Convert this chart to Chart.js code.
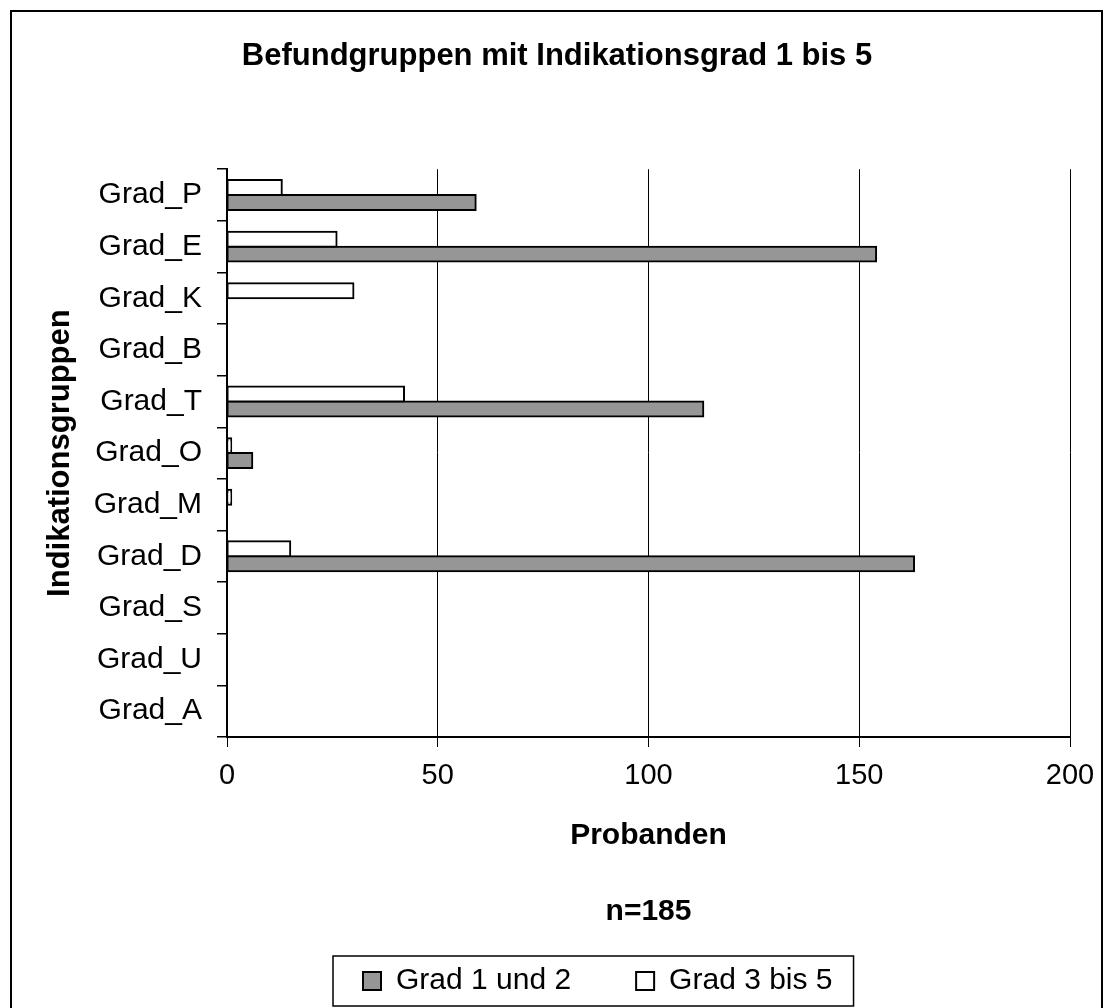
<!DOCTYPE html>
<html>
<head>
<meta charset="utf-8">
<script src="https://cdn.jsdelivr.net/npm/chart.js@4.4.1/dist/chart.umd.min.js"></script>
<style>
  html, body { margin: 0; padding: 0; background: #ffffff; }
  canvas { display: block; }
</style>
</head>
<body>
<canvas id="c" width="1108" height="1008"></canvas>
<script>
// ---- data ----
const categories = ['Grad_P', 'Grad_E', 'Grad_K', 'Grad_B', 'Grad_T', 'Grad_O', 'Grad_M', 'Grad_D', 'Grad_S', 'Grad_U', 'Grad_A'];
const grad12 = [59, 154, 0, 0, 113, 6, 0, 163, 0, 0, 0];   // Grad 1 und 2
const grad35 = [13, 26, 30, 0, 42, 1, 1, 15, 0, 0, 0];     // Grad 3 bis 5
const xTickValues = [0, 50, 100, 150, 200];
const seriesLabels = ['Grad 1 und 2', 'Grad 3 bis 5'];
const chartTitle = 'Befundgruppen mit Indikationsgrad 1 bis 5';
const xTitle = 'Probanden';
const yTitle = 'Indikationsgruppen';
const noteText = 'n=185';

const FONT = "'Liberation Sans', Arial, Helvetica, sans-serif";
Chart.defaults.font.family = FONT;
Chart.defaults.color = '#000000';

const LEGEND_PAD = 65;

const decoPlugin = {
  id: 'deco',
  beforeDraw(chart) {
    const ctx = chart.ctx;
    ctx.save();
    ctx.fillStyle = '#ffffff';
    ctx.fillRect(0, 0, chart.width, chart.height);
    ctx.restore();
  },
  afterLayout(chart) {
    const lg = chart.legend;
    if (!lg || !lg.lineWidths) return;
    const curStart = (lg.left + LEGEND_PAD + lg.right - lg.lineWidths[0]) / 2;
    const delta = 363 - curStart;
    lg.left += delta;
    lg.right += delta;
  },
  afterDraw(chart) {
    const ctx = chart.ctx;
    ctx.save();
    ctx.strokeStyle = '#000000';
    ctx.lineWidth = 2;
    ctx.strokeRect(11, 11, chart.width - 17, chart.height + 10);
    const hb = chart.legend && chart.legend.legendHitBoxes;
    if (hb && hb.length) {
      const left = Math.min(...hb.map(h => h.left)) - 30;
      const right = Math.max(...hb.map(h => h.left + h.width)) + 21;
      const top = hb[0].top - 10;
      const bottom = hb[0].top + hb[0].height + 10;
      ctx.lineWidth = 1.5;
      ctx.strokeRect(left, top, right - left, bottom - top);
    }
    ctx.restore();
  }
};

const inflateNonZero = (c) => (c.raw ? 1 : 0);

new Chart(document.getElementById('c'), {
  type: 'bar',
  data: {
    labels: categories,
    datasets: [
      {
        label: seriesLabels[1],
        data: grad35,
        backgroundColor: '#ffffff',
        borderColor: '#000000',
        borderWidth: 2,
        borderSkipped: false,
        inflateAmount: inflateNonZero,
        categoryPercentage: 0.58,
        barPercentage: 1.0
      },
      {
        label: seriesLabels[0],
        data: grad12,
        backgroundColor: '#969696',
        borderColor: '#000000',
        borderWidth: 2,
        borderSkipped: false,
        inflateAmount: inflateNonZero,
        categoryPercentage: 0.58,
        barPercentage: 1.0
      }
    ]
  },
  options: {
    indexAxis: 'y',
    responsive: false,
    animation: false,
    devicePixelRatio: 1,
    layout: { padding: { left: 12, right: 6, top: 0, bottom: 2 } },
    scales: {
      x: {
        type: 'linear',
        min: 0,
        max: 200,
        afterBuildTicks(scale) { scale.ticks = xTickValues.map(v => ({ value: v })); },
        afterFit(scale) { scale.height = 118; scale.paddingRight = 38; },
        grid: { color: '#000000', lineWidth: 1, tickLength: 10, drawTicks: true },
        border: { display: true, color: '#000000', width: 2 },
        ticks: { font: { size: 29 }, color: '#000000', padding: 12, maxRotation: 0 },
        title: { display: true, text: xTitle, font: { size: 30, weight: 'bold' }, color: '#000000', padding: { top: 0, bottom: 1 } }
      },
      y: {
        type: 'category',
        afterFit(scale) { scale.width = 215; },
        grid: { color: '#000000', lineWidth: 1.5, tickLength: 10, drawOnChartArea: false, drawTicks: true, offset: true },
        border: { display: true, color: '#000000', width: 2 },
        ticks: { font: { size: 30 }, color: '#000000', padding: 15 },
        title: { display: true, text: yTitle, font: { size: 31, weight: 'bold' }, color: '#000000', padding: { top: 29.5, bottom: 0 } }
      }
    },
    plugins: {
      title: {
        display: true,
        text: chartTitle,
        font: { size: 31, weight: 'bold' },
        color: '#000000',
        padding: { top: 38, bottom: 94 }
      },
      subtitle: {
        display: true,
        text: noteText,
        position: 'bottom',
        fullSize: false,
        weight: 1500,
        font: { size: 30, weight: 'bold' },
        color: '#000000',
        padding: { top: 39, bottom: -29 }
      },
      legend: {
        display: true,
        position: 'bottom',
        reverse: true,
        weight: 3000,
        labels: {
          font: { size: 30 },
          color: '#000000',
          boxWidth: 18,
          boxHeight: 18,
          padding: LEGEND_PAD
        }
      },
      tooltip: { enabled: false }
    }
  },
  plugins: [decoPlugin]
});
</script>
</body>
</html>
